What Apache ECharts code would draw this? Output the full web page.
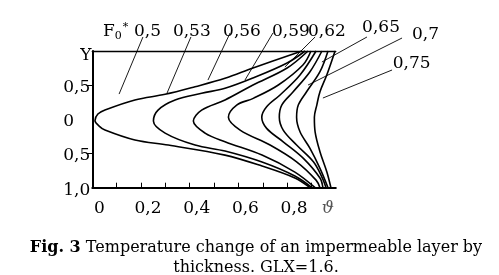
<!DOCTYPE html>
<html><head><meta charset="utf-8">
<script src="https://cdn.jsdelivr.net/npm/echarts@6/dist/echarts.min.js"></script>
<style>html,body{margin:0;padding:0;background:#fff}#c{width:499px;height:275px}</style>
</head><body><div id="c"></div>
<script>
// F0* values for each curve
const f0Labels = ['0,5','0,53','0,56','0,59','0,62','0,65','0,7','0,75'];
// curves: [theta, Y] (Y from -1 top to +1 bottom)
const curve050 = [[0.861,-1],[0.660,-0.751],[0.545,-0.600],[0.422,-0.477],[0.299,-0.366],[0.175,-0.283],[0.052,-0.136],[0.023,-0.078],[0.011,0.02],[0.028,0.098],[0.052,0.157],[0.175,0.303],[0.312,0.376],[0.545,0.523],[0.697,0.684],[0.832,0.859],[0.894,1]];
const curve053 = [[0.874,-1],[0.800,-0.824],[0.660,-0.605],[0.545,-0.454],[0.449,-0.381],[0.340,-0.283],[0.270,-0.136],[0.251,0.025],[0.299,0.201],[0.422,0.376],[0.545,0.464],[0.697,0.625],[0.832,0.830],[0.902,1]];
const curve056 = [[0.886,-1],[0.800,-0.751],[0.660,-0.502],[0.545,-0.283],[0.449,-0.136],[0.415,0.025],[0.463,0.201],[0.545,0.328],[0.697,0.523],[0.832,0.772],[0.915,1]];
const curve059 = [[0.898,-1],[0.865,-0.795],[0.764,-0.502],[0.661,-0.307],[0.593,-0.209],[0.559,-0.03],[0.607,0.157],[0.730,0.376],[0.839,0.621],[0.919,0.889],[0.935,1]];
const curve062 = [[0.919,-1],[0.853,-0.649],[0.771,-0.356],[0.716,-0.184],[0.696,-0.03],[0.716,0.132],[0.784,0.328],[0.867,0.571],[0.935,0.859],[0.947,1]];
const curve065 = [[0.943,-1],[0.894,-0.697],[0.825,-0.404],[0.778,-0.209],[0.768,-0.03],[0.784,0.157],[0.839,0.376],[0.908,0.621],[0.943,0.845],[0.960,1]];
const curve070 = [[0.968,-1],[0.935,-0.697],[0.880,-0.404],[0.846,-0.209],[0.839,-0.03],[0.853,0.182],[0.894,0.425],[0.935,0.717],[0.968,1]];
const curve075 = [[0.997,-1],[0.963,-0.649],[0.935,-0.404],[0.922,-0.209],[0.912,-0.03],[0.915,0.182],[0.935,0.474],[0.963,0.767],[0.980,1]];
const curves = [curve050,curve053,curve056,curve059,curve062,curve065,curve070,curve075];
// tick labels
const xLabelValues = [0,0.2,0.4,0.6,0.8,1];
const xTickValues = [0.1,0.2,0.3,0.4,0.5,0.6,0.7,0.8,0.9];
const yLabelValues = [-1,-0.5,0,0.5,1];
const yLabelTexts = ['Y','0,5','0','0,5','1,0'];
const yTickValues = [-0.5,0.5];
// annotation text anchors (data coords) and leader lines (data coords)
const annoTexts = ['F0*','0,5','0,53','0,56','0,59','0,62','0,65','0,7','0,75'];
const annoPos = [[0.044,-1.278],[0.171,-1.278],[0.331,-1.278],[0.537,-1.278],[0.738,-1.278],[0.886,-1.278],[1.108,-1.337],[1.313,-1.234],[1.234,-0.810]];
const leaderStart = [[0.208,-1.205],[0.405,-1.205],[0.566,-1.264],[0.742,-1.264],[0.915,-1.205],[1.128,-1.205],[1.272,-1.190],[1.231,-0.722]];
const leaderEnd = [[0.110,-0.370],[0.307,-0.385],[0.475,-0.575],[0.627,-0.575],[0.791,-0.766],[0.943,-0.839],[0.886,-0.502],[0.947,-0.312]];

const FONT = 'DejaVu Serif';
const chart = echarts.init(document.getElementById('c'), null, {renderer:'canvas'});
const series = curves.map((c,i)=>({type:'line', name:f0Labels[i], data:c, smooth:0.35, showSymbol:false, clip:false,
    lineStyle:{color:'#000', width:1.6}, silent:true}));

chart.setOption({
  animation:false,
  backgroundColor:'#fff',
  title:{
    text:'{b|Fig. 3} Temperature change of an impermeable layer by\nthickness. GLX=1.6.',
    left:251, top:233, textAlign:'center',
    textStyle:{fontFamily:FONT, fontSize:16, fontWeight:'normal', color:'#000', lineHeight:20, align:'center',
      rich:{b:{fontFamily:FONT, fontSize:16, fontWeight:'bold', color:'#000', lineHeight:20}}}
  },
  grid:{left:92.3, right:163.2, top:51, bottom:87.3},
  xAxis:[{
    type:'value', min:0, max:1, position:'bottom',
    axisLine:{onZero:false, lineStyle:{color:'#000', width:2}},
    axisTick:{show:true, inside:true, length:5, customValues:xTickValues, lineStyle:{color:'#000', width:1}},
    axisLabel:{customValues:xLabelValues, margin:12, color:'#000', fontFamily:FONT, fontSize:17,
      formatter:(v)=> v===1 ? '{t|ϑ}' : '{n|'+String(v).replace('.',',')+'}',
      rich:{n:{fontFamily:FONT,fontSize:17,color:'#000',padding:[0,0,0,14]},
            t:{fontFamily:FONT,fontSize:17,fontStyle:'italic',color:'#555',padding:[0,16,0,0]}}},
    splitLine:{show:false}
  },{
    type:'value', min:0, max:1, position:'top',
    axisLine:{onZero:false, lineStyle:{color:'#000', width:1.3}},
    axisTick:{show:false}, axisLabel:{show:false}, splitLine:{show:false}
  }],
  yAxis:{
    type:'value', min:-1, max:1, inverse:true,
    axisLine:{onZero:false, lineStyle:{color:'#000', width:2}},
    axisTick:{show:true, inside:false, length:6, customValues:yTickValues, lineStyle:{color:'#000', width:1}},
    axisLabel:{customValues:yLabelValues, align:'left', margin:29, color:'#000', fontFamily:FONT, fontSize:17,
      formatter:(v)=>{const t=yLabelTexts[yLabelValues.indexOf(v)]; return t==='Y' ? '{y|Y}' : '{n|'+t+'}';},
      rich:{y:{fontFamily:FONT,fontSize:17,color:'#000',padding:[10,0,0,17]},
            n:{fontFamily:FONT,fontSize:17,color:'#000',padding:[5,0,0,0]}}},
    splitLine:{show:false}
  },
  series:series
});

// annotations placed through the chart's own coordinate conversion
const px = (p)=> chart.convertToPixel({gridIndex:0}, p);
const graphics = [];
leaderStart.forEach((s,i)=>{
  const a = px(s), b = px(leaderEnd[i]);
  graphics.push({type:'line', silent:true, shape:{x1:a[0],y1:a[1],x2:b[0],y2:b[1]}, style:{stroke:'#000', lineWidth:0.9}});
});
annoPos.forEach((p,i)=>{
  const q = px(p);
  graphics.push({type:'text', silent:true, x:q[0], y:q[1], style:{
    text: annoTexts[i]==='F0*' ? 'F{sub|0}{sup|*}' : annoTexts[i],
    fill:'#000', font:'17px "DejaVu Serif"', align:'left', verticalAlign:'middle',
    rich:{sub:{fontFamily:FONT,fontSize:11,padding:[8,0,0,0],fill:'#000'},
          sup:{fontFamily:FONT,fontSize:11,padding:[0,0,10,1],fill:'#000'}}}});
});
chart.setOption({graphic:graphics});
</script></body></html>
